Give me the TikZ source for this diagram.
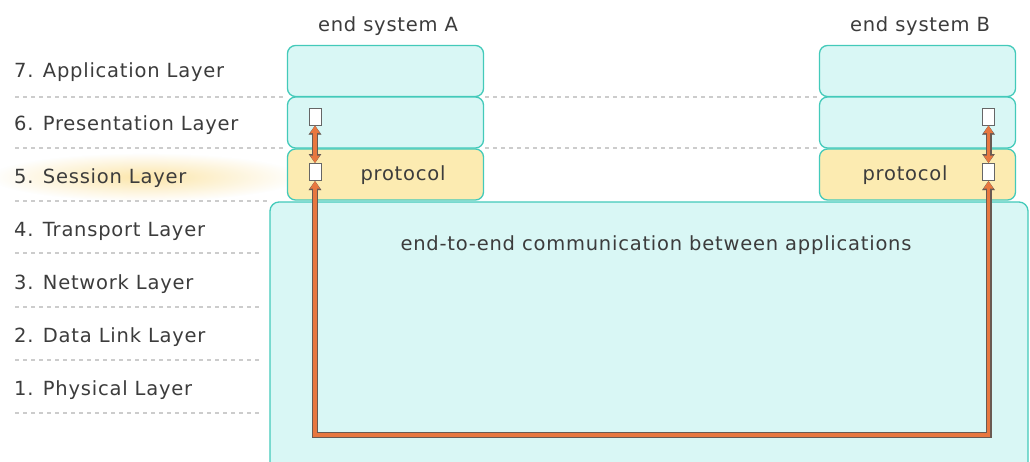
\documentclass[tikz,border=0pt]{standalone}
\usepackage{fontspec}
\setmainfont{DejaVu Sans}[LetterSpace=4]
\usetikzlibrary{arrows.meta,fadings}
\definecolor{cyanfill}{HTML}{D9F7F5}
\definecolor{tealline}{HTML}{43CABA}
\definecolor{yellowfill}{HTML}{FCEBB1}
\definecolor{txtc}{HTML}{3C3C3C}
\definecolor{orangec}{HTML}{E8773F}
\definecolor{outlinec}{HTML}{6A5A52}
\definecolor{dashc}{HTML}{CCCCCC}
\definecolor{glowc}{HTML}{FCE6AA}
\tikzfading[name=glowfade, inner color=transparent!0, outer color=transparent!100]
\tikzset{
  txt/.style={text=txtc, font=\fontsize{19.5}{23}\selectfont, inner sep=0pt},
  layerlabel/.style={txt, anchor=base west},
  laybox/.style={draw=tealline, line width=1.3pt, fill=cyanfill, rounded corners=8pt, minimum width=196pt, minimum height=51pt, inner sep=0pt},
  sesbox/.style={laybox, fill=yellowfill},
  bigbox/.style={draw=tealline, line width=1.3pt, fill=cyanfill, rounded corners=9pt, minimum width=758pt, minimum height=272pt, inner sep=0pt},
  sq/.style={draw=black!60, line width=1pt, fill=white, minimum width=12pt, minimum height=17pt, inner sep=0pt},
  sepline/.style={draw=dashc, line width=1.4pt, dash pattern=on 4pt off 4pt},
  linkshadow/.style={draw=black!45, line width=6pt, opacity=0.6, shift={(1.8,1.8)}, {Triangle[length=9pt,width=12pt]}-{Triangle[length=9pt,width=12pt]}},
  linkout/.style={draw=outlinec, line width=6pt, {Triangle[length=9pt,width=12pt]}-{Triangle[length=9pt,width=12pt]}},
  linkin/.style={draw=orangec, line width=3.6pt, {Triangle[length=7.5pt,width=9pt]}-{Triangle[length=7.5pt,width=9pt]}}
}
\begin{document}
\begin{tikzpicture}[x=1pt,y=-1pt]
\useasboundingbox (0,0) rectangle (1030,461);
\fill[white] (0,0) rectangle (1030,461);
% glow behind session layer
\fill[glowc, path fading=glowfade] (145,177) ellipse [x radius=155, y radius=24];
% dashed separators
\draw[sepline] (15,97) -- (286,97);
\draw[sepline] (485,97) -- (818,97);
\draw[sepline] (15,148) -- (286,148);
\draw[sepline] (485,148) -- (818,148);
\draw[sepline] (15,201) -- (268,201);
\draw[sepline] (15,253) -- (262,253);
\draw[sepline] (15,307) -- (262,307);
\draw[sepline] (15,360) -- (262,360);
\draw[sepline] (15,413) -- (262,413);
% layer labels
\node[layerlabel] (l7) at (14,77) {7. Application Layer};
\node[layerlabel] (l6) at (14,130) {6. Presentation Layer};
\node[layerlabel] (l5) at (14,183) {5. Session Layer};
\node[layerlabel] (l4) at (14,236) {4. Transport Layer};
\node[layerlabel] (l3) at (14,289) {3. Network Layer};
\node[layerlabel] (l2) at (14,342) {2. Data Link Layer};
\node[layerlabel] (l1) at (14,395) {1. Physical Layer};
% big box
\node[bigbox] (big) at (649,338) {};
\node[txt, anchor=base] (bigtxt) at (656,250) {end-to-end communication between applications};
% titles
\node[txt, anchor=base] (ta) at (388,31) {end system A};
\node[txt, anchor=base] (tb) at (920,31) {end system B};
% system A
\node[laybox] (a7) at (385.5,71) {};
\node[laybox] (a6) at (385.5,122.5) {};
\node[sesbox] (a5) at (385.5,174.5) {};
\node[txt, anchor=base] (pa) at (403,180) {protocol};
% system B
\node[laybox] (b7) at (917.5,71) {};
\node[laybox] (b6) at (917.5,122.5) {};
\node[sesbox] (b5) at (917.5,174.5) {};
\node[txt, anchor=base] (pb) at (905,180) {protocol};
% squares
\node[sq] (sa6) at (315,116.5) {};
\node[sq] (sa5) at (315,172) {};
\node[sq] (sb6) at (988.5,116.5) {};
\node[sq] (sb5) at (988.5,172) {};
\coordinate (bl) at (315,435);
\coordinate (br) at (988.5,435);
% links
\draw[linkshadow] (sa6.south) -- (sa5.north);
\draw[linkshadow] (sb6.south) -- (sb5.north);
\draw[linkshadow] (sa5.south) -- (bl) -- (br) -- (sb5.south);
\draw[linkout] (sa6.south) -- (sa5.north);
\draw[linkout] (sb6.south) -- (sb5.north);
\draw[linkout] (sa5.south) -- (bl) -- (br) -- (sb5.south);
\draw[linkin] (sa6.south) -- (sa5.north);
\draw[linkin] (sb6.south) -- (sb5.north);
\draw[linkin] (sa5.south) -- (bl) -- (br) -- (sb5.south);
\end{tikzpicture}
\end{document}
